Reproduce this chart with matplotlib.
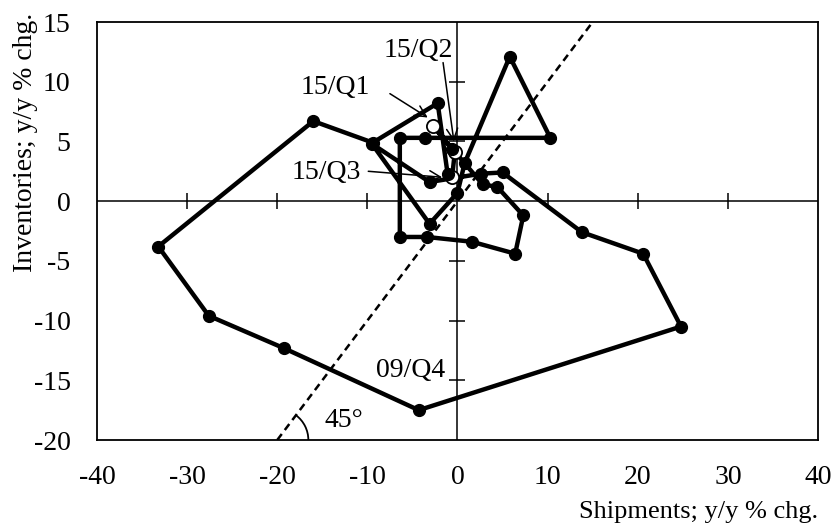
import numpy as np
import matplotlib.pyplot as plt
from matplotlib.patches import Arc

plt.rcParams['font.family'] = ['Liberation Serif', 'DejaVu Serif']
plt.rcParams['font.size'] = 20
plt.rcParams['axes.unicode_minus'] = False

# shipments / inventories, y/y % chg, quarterly path (last three = 15/Q1..Q3)
ship = [-1.1, -2.2, -9.4, -16.0, -33.2, -27.6, -19.3, -4.3, 24.8, 20.6, 13.8, 5.0,
        2.6, -3.1, -9.5, -3.1, 0.0, 0.8, 5.8, 10.3, -3.6, -6.4, -6.4, -3.4,
        1.6, 6.4, 7.3, 4.4, 2.8, -0.6, -2.7, -0.3, -0.6]
inv = [2.3, 8.2, 4.9, 6.7, -3.8, -9.6, -12.3, -17.5, -10.5, -4.4, -2.6, 2.4,
       2.3, 1.6, 4.8, -1.9, 0.7, 3.2, 12.1, 5.3, 5.3, 5.3, -3.0, -3.0,
       -3.4, -4.4, -1.2, 1.2, 1.4, 4.4, 6.3, 4.1, 2.0]
n_latest = 3

xticks = [-40, -30, -20, -10, 0, 10, 20, 30, 40]
yticks = [-20, -15, -10, -5, 0, 5, 10, 15]

fig = plt.figure(figsize=(8.35, 5.24), dpi=100)
ax = fig.add_axes([97/835, 1 - 440/524, 721/835, 418/524])
ax.set_xlim(-40, 40)
ax.set_ylim(-20, 15)
ax.set_xticks(xticks)
ax.set_yticks(yticks)
ax.tick_params(length=0, labelsize=20)
ax.tick_params(axis='x', pad=18)
ax.tick_params(axis='y', pad=19)
for s in ax.spines.values():
    s.set_linewidth(1.3)

# zero axes with cross ticks
ax.axhline(0, color='k', lw=1.1, zorder=1)
ax.axvline(0, color='k', lw=1.1, zorder=1)
xt = [t for t in xticks[1:-1] if t != 0]
yt = [t for t in yticks[1:-1] if t != 0]
ax.plot(xt, np.zeros(len(xt)), ls='none', marker='|', ms=11, mew=1.1, color='k', zorder=1)
ax.plot(np.zeros(len(yt)), yt, ls='none', marker='_', ms=12, mew=1.1, color='k', zorder=1)

# 45 degree line
ax.axline((0, 0), slope=1, color='k', lw=1.8, dashes=(3, 2), zorder=2)
ax.add_patch(Arc((-20, -20), 6.9, 5.2, theta1=0, theta2=45, color='k', lw=1.3))
ax.text(-12.6, -18.4, '45°', ha='center', va='center')

# path
ax.plot(ship, inv, color='k', lw=3.2, zorder=3, solid_joinstyle='round')
ax.plot(ship[-n_latest:], inv[-n_latest:], ls='none', marker='o', ms=9.5,
        mfc='white', mec='k', mew=1.3, zorder=4)
ax.plot(ship[:-n_latest], inv[:-n_latest], ls='none', marker='o', ms=8.5,
        color='k', zorder=5)

# labels
arrow = dict(arrowstyle='->', color='k', lw=1.1, shrinkA=0, shrinkB=0)
ax.text(-13.6, 9.5, '15/Q1', ha='center', va='center')
ax.annotate('', xy=(-3.3, 7.0), xytext=(-7.5, 9.0), arrowprops=arrow, zorder=6)
ax.text(-4.4, 12.6, '15/Q2', ha='center', va='center')
ax.annotate('', xy=(-0.4, 5.0), xytext=(-1.6, 11.6), arrowprops=arrow, zorder=6)
ax.text(-14.6, 2.4, '15/Q3', ha='center', va='center')
ax.annotate('', xy=(-1.7, 2.0), xytext=(-9.9, 2.5), arrowprops=arrow, zorder=6)
ax.text(-5.2, -14.2, '09/Q4', ha='center', va='center')

fig.text(818/835, 1 - 518/524, 'Shipments; y/y % chg.', ha='right', va='baseline', fontsize=19)
fig.text(26/835, 1 - 13/524, 'Inventories; y/y % chg.', ha='center', va='top',
         rotation=90, fontsize=20)

fig.savefig('out.png', dpi=100)
